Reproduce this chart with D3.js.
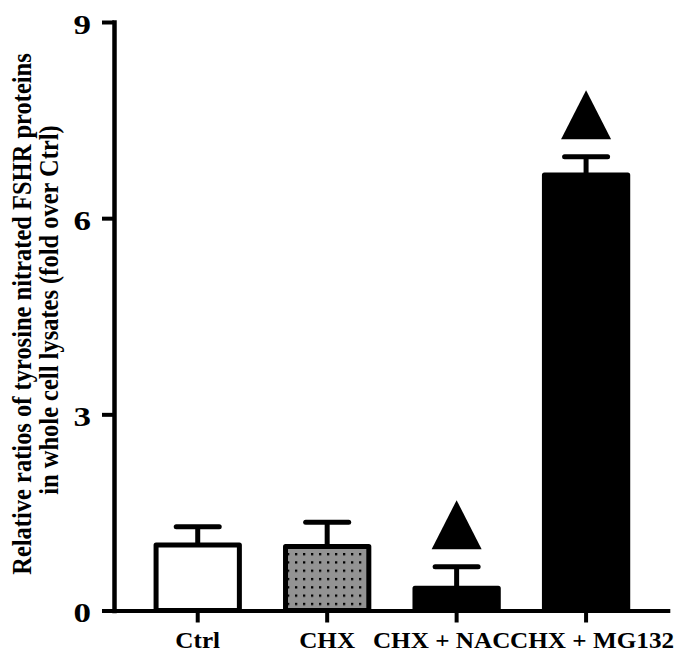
<!DOCTYPE html>
<html>
<head>
<meta charset="utf-8">
<script src="https://cdn.jsdelivr.net/npm/d3@7/dist/d3.min.js"></script>
<style>
  html, body { margin: 0; padding: 0; background: #fff; }
  svg { display: block; }
  text { font-family: "Liberation Serif", "Times New Roman", serif; font-weight: bold; fill: #000; }
</style>
</head>
<body>
<script>
// Treatment groups and measured fold change (mean) with upward error (SEM)
const categories = ["Ctrl", "CHX", "CHX + NAC", "CHX + MG132"];
const means = [1.00, 0.98, 0.34, 6.66];
const sems = [0.28, 0.37, 0.33, 0.28];
// Groups flagged as significantly different
const marked = ["CHX + NAC", "CHX + MG132"];
const yTicks = [0, 3, 6, 9];
const yTitle = ["Relative ratios of tyrosine nitrated FSHR proteins",
                "in whole cell lysates (fold over Ctrl)"];

const W = 688, H = 654;
const svg = d3.select("body").append("svg").attr("width", W).attr("height", H);

// dotted grey fill for the CHX bar
const defs = svg.append("defs");
const pat = defs.append("pattern")
  .attr("id", "dots").attr("patternUnits", "userSpaceOnUse")
  .attr("x", 295).attr("y", 553).attr("width", 8).attr("height", 8.3);
pat.append("rect").attr("width", 8).attr("height", 8.3).attr("fill", "#939393");
pat.append("rect").attr("x", 0).attr("y", 0).attr("width", 2.3).attr("height", 2.3).attr("fill", "#000");

const x = d3.scaleBand().domain(categories)
  .range([114, 669.8]).paddingInner(0.3565).paddingOuter(0.325);
const y = d3.scaleLinear().domain([0, 9]).range([610.5, 22]);

// y axis
const gy = svg.append("g").attr("transform", "translate(114,0)")
  .call(d3.axisLeft(y).tickValues(yTicks).tickSize(12).tickSizeOuter(0).tickPadding(12));
gy.select(".domain").attr("stroke", "#000").attr("stroke-width", 4.5).attr("stroke-linecap", "square");
gy.selectAll(".tick line").attr("stroke", "#000").attr("stroke-width", 4);
gy.selectAll(".tick text")
  .attr("x", 0).attr("dy", "0.4em")
  .attr("transform", "translate(-23,0) scale(1.25,1)")
  .style("font-size", "28px");

// x axis
const labelNudge = {"CHX + NAC": -15, "CHX + MG132": 6};
const gx = svg.append("g").attr("transform", `translate(0,${y(0)})`)
  .call(d3.axisBottom(x).tickSize(12).tickSizeOuter(0));
gx.select(".domain").attr("stroke", "#000").attr("stroke-width", 4);
gx.selectAll(".tick line").attr("stroke", "#000").attr("stroke-width", 4);
gx.selectAll(".tick text")
  .attr("x", 0).attr("y", 0).attr("dy", 0)
  .attr("transform", d => `translate(${labelNudge[d] || 0},37.5) scale(1.12,1)`)
  .style("font-size", "22.5px");

const data = categories.map((c, i) => ({c, m: means[i], e: sems[i]}));
const fills = {"Ctrl": "#fff", "CHX": "url(#dots)", "CHX + NAC": "#000", "CHX + MG132": "#000"};

// error bars (upper only)
const err = svg.append("g").attr("stroke", "#000").attr("stroke-width", 5);
err.selectAll("line.stem").data(data).join("line").attr("class", "stem")
  .attr("x1", d => x(d.c) + x.bandwidth() / 2).attr("x2", d => x(d.c) + x.bandwidth() / 2)
  .attr("y1", d => y(d.m)).attr("y2", d => y(d.m + d.e));
err.selectAll("line.cap").data(data).join("line").attr("class", "cap")
  .attr("stroke-linecap", "round")
  .attr("x1", d => x(d.c) + x.bandwidth() / 2 - 21.5).attr("x2", d => x(d.c) + x.bandwidth() / 2 + 21.5)
  .attr("y1", d => y(d.m + d.e)).attr("y2", d => y(d.m + d.e));

// bars
svg.append("g").selectAll("rect").data(data).join("rect")
  .attr("x", d => x(d.c)).attr("y", d => y(d.m))
  .attr("width", x.bandwidth()).attr("height", d => y(0) - y(d.m))
  .attr("fill", d => fills[d.c])
  .attr("stroke", "#000").attr("stroke-width", 5).attr("stroke-linejoin", "round");

// significance triangles above error bars
const tri = d => {
  const cx = x(d.c) + x.bandwidth() / 2;
  const base = y(d.m + d.e) - 17.5;
  return `M${cx - 25},${base}L${cx},${base - 49}L${cx + 25},${base}Z`;
};
svg.append("g").selectAll("path").data(data.filter(d => marked.includes(d.c))).join("path")
  .attr("d", tri).attr("fill", "#000");

// y axis title, two lines
const titlePos = [[31, 314], [58, 310]];
yTitle.forEach((t, i) => {
  svg.append("g")
    .attr("transform", `translate(${titlePos[i][0]},${titlePos[i][1]}) scale(1.15,1) rotate(-90)`)
    .append("text").attr("text-anchor", "middle").style("font-size", "24.5px").text(t);
});
</script>
</body>
</html>
